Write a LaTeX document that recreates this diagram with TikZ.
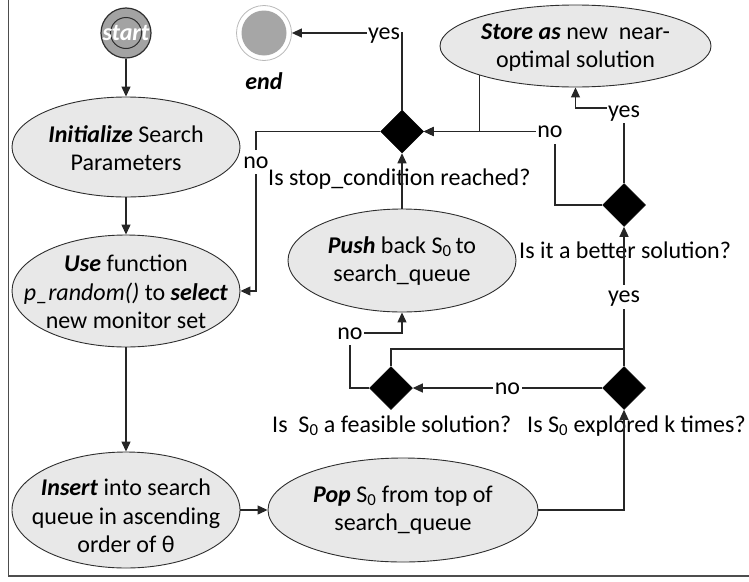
\documentclass[tikz,border=0pt]{standalone}
\usepackage{fontspec}
\setmainfont{Carlito}
\usetikzlibrary{arrows.meta,shapes.geometric}

\definecolor{procfill}{HTML}{E8E8E8}
\definecolor{procline}{HTML}{2E2E2E}
\definecolor{wire}{HTML}{262626}
\definecolor{startgray}{HTML}{A3A3A3}
\definecolor{endgray}{HTML}{A6A6A6}
\definecolor{framegray}{HTML}{4D4D4D}

\tikzset{
  base font/.style={font=\fontsize{24}{28.5}\selectfont},
  proc/.style={ellipse, draw=procline, line width=0.9pt, fill=procfill, inner sep=0pt},
  ptext/.style={base font, align=center, inner sep=0pt},
  decision/.style={diamond, fill=black, draw=black, line width=0.5pt, inner sep=0pt,
                   minimum width=43pt, minimum height=43pt},
  conn/.style={draw=wire, line width=1.2pt, -{Triangle[length=10pt,width=9pt]}},
  wireline/.style={draw=wire, line width=1.2pt},
  lbl/.style={base font, fill=white, inner xsep=1.5pt, inner ysep=1pt,
              text height=17pt, text depth=5pt},
  question/.style={base font, inner sep=0pt, anchor=base west},
}

\begin{document}
\begin{tikzpicture}[x=1pt,y=-1pt]
\useasboundingbox (0,0) rectangle (749,581);

% outer frame (left and bottom edges)
\draw[framegray, line width=1.6pt] (8.5,0) -- (8.5,576) -- (749,576);

% start / end markers
\node[circle, minimum size=50pt, inner sep=0pt, fill=startgray, draw=procline, line width=1.2pt] (start) at (126,33) {};
\node[circle, minimum size=31pt, inner sep=0pt, fill=startgray, draw=procline, line width=1pt] (start-in) at (start) {};
\node[base font, text=white, inner sep=0pt] (start-t) at (start) {\textbf{\textit{start}}};

\node[circle, minimum size=55pt, inner sep=0pt, fill=white, draw=gray!55, line width=0.8pt] (end) at (264,33) {};
\node[circle, minimum size=45pt, inner sep=0pt, fill=endgray] (end-in) at (end) {};
\node[base font, inner sep=0pt] (end-t) at (264,81) {\textbf{\textit{end}}};

% process ellipses
\node[proc, minimum width=228pt, minimum height=100pt] (init) at (126,147) {};
\node[ptext] (init-t) at (126,148) {\textbf{\textit{Initialize}} Search\\Parameters};

\node[proc, minimum width=228pt, minimum height=112pt] (use) at (126,291) {};
\node[ptext] (use-t) at (126,292) {\textbf{\textit{Use}} function\\\textit{p\_random()} to \textbf{\textit{select}}\\new monitor set};

\node[proc, minimum width=228pt, minimum height=116pt] (insert) at (126,510) {};
\node[ptext] (insert-t) at (126,516) {\textbf{\textit{Insert}} into search\\queue in ascending\\order of θ};

\node[proc, minimum width=270pt, minimum height=104pt] (pop) at (403,510) {};
\node[ptext] (pop-t) at (403,510) {\textbf{\textit{Pop}} S\textsubscript{0} from top of\\search\_queue};

\node[proc, minimum width=228pt, minimum height=103pt] (push) at (402,260.5) {};
\node[ptext] (push-t) at (402,261) {\textbf{\textit{Push}} back S\textsubscript{0}\,to\\search\_queue};

\node[proc, minimum width=271pt, minimum height=82pt] (store) at (575.5,46) {};
\node[ptext] (store-t) at (575.5,47.5) {\textbf{\textit{Store as}} new\ \ near-\\optimal solution};

% decisions
\node[decision] (d1) at (402,131.5) {};
\node[decision] (d2) at (624,205) {};
\node[decision] (d3) at (624,388) {};
\node[decision] (d4) at (391,388) {};

\node[question] (q1) at (268,185) {Is stop\_condition reached?};
\node[question] (q2) at (519,258) {Is it a better solution?};
\node[question] (q4) at (272,432) {Is\ \ S\textsubscript{0} a feasible solution?};
\node[question] (q3) at (527,432) {Is S\textsubscript{0} explored k times?};

% bend points
\coordinate (nobend) at (256,131.5);
\coordinate (nocorner) at (555,131.5);
\coordinate (yesc) at (624,108);
\coordinate (jn) at (624,349);
\coordinate (pushno) at (350,333);

% connectors
\draw[conn] (start.south) -- (init.north);
\draw[conn] (init.south) -- (use.north);
\draw[conn] (use.south) -- (insert.north);
\draw[conn] (insert.east) -- (pop.west);
\draw[conn] (pop.east) -| (d3.south);
\draw[conn] (d3.west) -- node[lbl] (l-no-feas) {no} (d4.east);
\draw[conn] (d3.north) -- node[lbl] (l-yes-better) {yes} (d2.south);
\draw[wireline] (d4.north) |- (jn);
\draw[conn] (d4.west) -| (pushno) -| (push.south);
\draw[conn] (push.north) -- (d1.south);
\draw[conn] (d1.north) |- (end.east);
\draw[conn] (d1.west) -- (nobend) |- (use.east);
\draw[conn] (store.197) |- (d1.east);
\draw[conn] (d2.west) -| (nocorner) -- (d1.east);
\draw[conn] (d2.north) -- (yesc) -| (store.south);

% branch labels
\node[lbl] (l-yes-end) at (384,33) {yes};
\node[lbl] (l-no-use) at (256,162) {no};
\node[lbl] (l-no-stop) at (550,131.5) {no};
\node[lbl] (l-yes-store) at (624,111) {yes};
\node[lbl] (l-no-push) at (pushno) {no};
\end{tikzpicture}
\end{document}
